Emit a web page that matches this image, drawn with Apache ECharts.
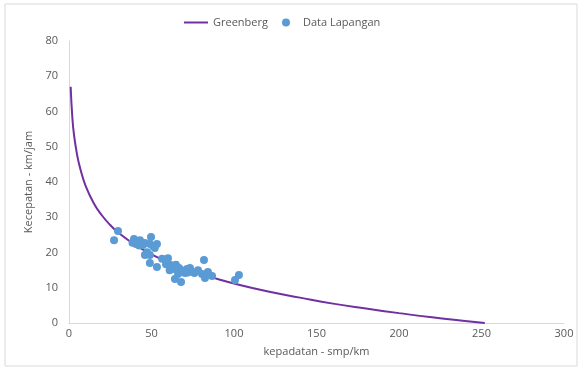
<!DOCTYPE html>
<html>
<head>
<meta charset="utf-8">
<script src="https://cdn.jsdelivr.net/npm/echarts@6/dist/echarts.min.js"></script>
<style>
  html, body { margin: 0; padding: 0; background: #fff; }
  #chart { width: 582px; height: 370px; }
</style>
</head>
<body>
<div id="chart"></div>
<script>
// Greenberg model curve (kepadatan, kecepatan)
const greenbergK = [1, 2, 3, 5, 7, 10, 15, 20, 25, 30, 40, 50, 60, 70, 80, 90, 100, 120, 140, 160, 180, 200, 220, 240, 252]
const greenbergV = [67, 58.5, 53.5, 47.5, 43.5, 39, 34, 30.5, 27.8, 25.6, 22.2, 19.5, 17.3, 15.5, 13.9, 12.5, 11.2, 9, 7.2, 5.5, 4.1, 2.8, 1.6, 0.6, 0]

// field data points
const lapanganK = [27.3, 29.7, 39.4, 41.2, 43, 40.6, 46, 49.7, 49, 53.3, 52, 44.8, 47.3, 46, 49, 49, 53.3, 56.4, 60,
  58.8, 61.2, 62.4, 64.8, 63.6, 66.7, 66.1, 64.2, 67.9, 69.7, 71.5, 73.3, 70.3, 75.2, 78.2, 81.8, 80.6, 83, 84.2,
  82.4, 86.7, 100.6, 103, 38.5, 42.5, 51, 61, 67, 72, 76]
const lapanganV = [23.5, 26.1, 23.8, 23, 23.5, 22.4, 22.7, 24.4, 22.4, 22.4, 21.3, 22.1, 20.1, 19.3, 19.3, 17, 15.9, 18.2, 18.4,
  16.7, 16.5, 15.6, 16.5, 15.3, 15.6, 13.9, 12.5, 11.6, 14.8, 15.3, 15.6, 14.2, 14.5, 15, 17.9, 13.9, 13.6, 14.5,
  12.8, 13.3, 12.2, 13.6, 22.8, 22, 21.8, 15, 14.6, 14.3, 14.2]

const xTicks = { min: 0, max: 300, interval: 50 }
const yTicks = { min: 0, max: 80, interval: 10 }

const chart = echarts.init(document.getElementById('chart'))

const textColor = '#595959'
const fontFamily = '"Open Sans", "Noto Sans", sans-serif'
const legendText = { color: textColor, fontSize: 11, fontFamily: fontFamily }

const option = {
  animation: false,
  textStyle: { fontFamily: fontFamily },
  graphic: [{
    type: 'rect',
    shape: { x: 5, y: 4, width: 572, height: 362 },
    style: { fill: 'none', stroke: '#D9D9D9', lineWidth: 1 },
    silent: true,
  }],
  // two legends so the line key can be thin while the dot stays round
  legend: [
    {
      top: 12,
      left: 179,
      itemWidth: 24,
      itemHeight: 2,
      textStyle: legendText,
      data: [{ name: 'Greenberg', icon: 'rect' }],
    },
    {
      top: 12,
      left: 277,
      itemWidth: 24,
      itemHeight: 8,
      textStyle: legendText,
      data: [{ name: 'Data Lapangan', icon: 'circle' }],
    },
  ],
  grid: {
    left: 69,
    right: 18,
    top: 41,
    bottom: 47,
  },
  xAxis: {
    type: 'value',
    min: xTicks.min,
    max: xTicks.max,
    interval: xTicks.interval,
    name: 'kepadatan - smp/km',
    nameLocation: 'middle',
    nameGap: 23,
    nameTextStyle: { color: textColor, fontSize: 11 },
    axisLine: { show: true, lineStyle: { color: '#D9D9D9' } },
    axisTick: { show: false },
    splitLine: { show: false },
    axisLabel: { color: textColor, fontSize: 11, margin: 5 },
  },
  yAxis: {
    type: 'value',
    min: yTicks.min,
    max: yTicks.max,
    interval: yTicks.interval,
    name: 'Kecepatan - km/jam',
    nameLocation: 'middle',
    nameGap: 33,
    nameTextStyle: { color: textColor, fontSize: 11 },
    axisLine: { show: true, lineStyle: { color: '#D9D9D9' } },
    axisTick: { show: false },
    splitLine: { show: false },
    axisLabel: { color: textColor, fontSize: 11, margin: 11 },
  },
  series: [
    {
      name: 'Greenberg',
      type: 'line',
      smooth: true,
      symbol: 'none',
      z: 1,
      lineStyle: { color: '#7030A0', width: 2 },
      itemStyle: { color: '#7030A0' },
      data: greenbergK.map((k, i) => [k, greenbergV[i]]),
    },
    {
      name: 'Data Lapangan',
      type: 'scatter',
      symbolSize: 8,
      z: 2,
      itemStyle: { color: '#5B9BD5', opacity: 1 },
      data: lapanganK.map((k, i) => [k, lapanganV[i]]),
    },
  ],
}

chart.setOption(option)
</script>
</body>
</html>
